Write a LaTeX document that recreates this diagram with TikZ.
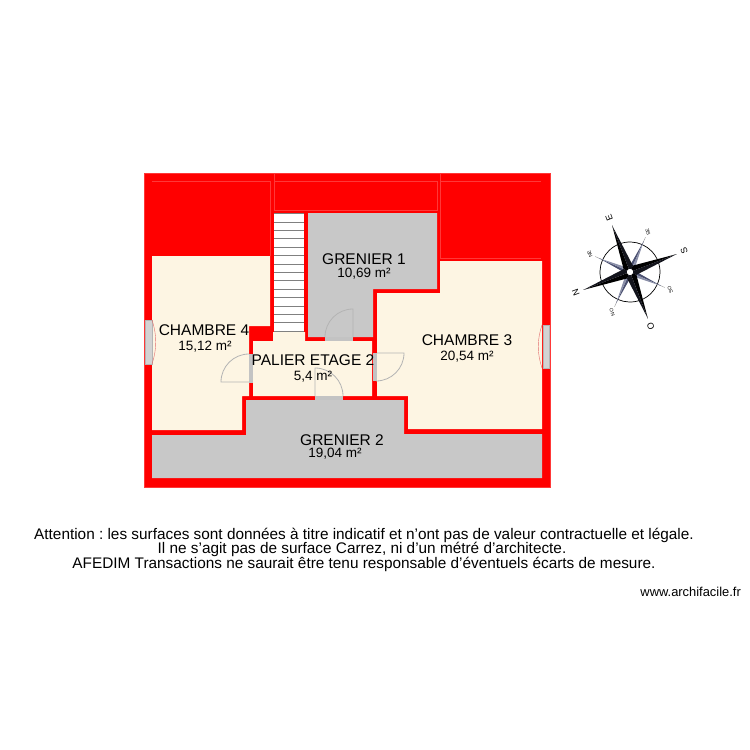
\documentclass[tikz,border=0pt]{standalone}
\usepackage{fontspec}
\setmainfont{Liberation Sans}
\frenchspacing
\definecolor{wallred}{HTML}{FF0000}
\definecolor{wallline}{HTML}{FF3838}
\definecolor{roomcream}{HTML}{FDF5E3}
\definecolor{atticgrey}{HTML}{C8C8C8}
\definecolor{doorgrey}{HTML}{B4B4B4}
\definecolor{starblue}{HTML}{4A5070}
\definecolor{starpale}{HTML}{8A8FA8}
\begin{document}
\begin{tikzpicture}[
        x=1pt, y=-1pt,
        room/.style={fill=roomcream},
        attic/.style={fill=atticgrey},
        seam/.style={wallline, line width=0.4pt},
        sill/.style={fill=doorgrey!80!white},
        glass/.style={fill=atticgrey!80!white, draw=doorgrey, line width=0.5pt},
        swing/.style={doorgrey, line width=0.8pt},
        roomname/.style={font=\fontsize{15.5}{15.5}\selectfont, inner sep=0pt},
        roomarea/.style={font=\fontsize{13.5}{13.5}\selectfont, inner sep=0pt},
        notice/.style={font=\fontsize{15.35}{15.35}\selectfont, inner sep=0pt},
        website/.style={font=\fontsize{12.9}{12.9}\selectfont, inner sep=0pt},
        point/.style={font=\fontsize{5}{5}\selectfont, inner sep=0pt, rotate=111},
        mainpoint/.style={font=\fontsize{9}{9}\selectfont, inner sep=0pt, rotate=111}
    ]
    \useasboundingbox (0,0) rectangle (750,750);

    % walls
    \fill[wallred] (144,173) rectangle (550,487);
    \draw[seam] (144,173) rectangle (550,487);
    \draw[seam] (152,181) -- (270,181) -- (270,256);
    \draw[seam] (274,173) -- (274,210) -- (437,210) -- (437,181) -- (274,181);
    \draw[seam] (440,173) -- (440,258) -- (541,258) (440,181) -- (541,181);

    % rooms
    \fill[room] (152,256) -- (270,256) -- (270,326) -- (249,326) -- (249,396) -- (242,396) -- (242,430) -- (152,430) -- cycle;
    \fill[room] (377,293) -- (440,293) -- (440,261) -- (542,261) -- (542,429) -- (408,429) -- (408,396) -- (377,396) -- cycle;
    \fill[room] (253,341) -- (273,341) -- (273,332) -- (305,332) -- (305,341) -- (372,341) -- (372,396) -- (253,396) -- cycle;
    \fill[attic] (308,213) -- (437,213) -- (437,289) -- (373,289) -- (373,337) -- (308,337) -- cycle;
    \fill[attic] (246,400) -- (404,400) -- (404,434) -- (542,434) -- (542,478) -- (152,478) -- (152,435) -- (246,435) -- cycle;

    % stairs
    \fill[white] (274,213) rectangle (304,332);
    \draw[gray, line width=0.7pt] (274,213) -- (304,213);
    \foreach \n in {0,...,13}{
        \draw[gray, line width=0.7pt] (274,222+8.4*\n) -- (304,222+8.4*\n);
    }

    % doors
    \fill[sill] (325,337) rectangle (353,341);
    \draw[swing] (353,337) -- (353,309) arc[start angle=270, end angle=180, radius=28];
    \fill[sill] (249,354) rectangle (253,383);
    \draw[swing] (249,382) -- (221,382) arc[start angle=180, end angle=270, radius=28];
    \fill[sill] (373,353) rectangle (377,381);
    \draw[swing] (377,353) -- (404,353) arc[start angle=0, end angle=90, radius=28];
    \fill[sill] (315,396) rectangle (343,400);
    \draw[swing] (315,396) -- (315,368) arc[start angle=270, end angle=360, radius=28];

    % windows
    \filldraw[glass] (145,320) rectangle (152,364);
    \draw[wallline!60!doorgrey] (152,320) .. controls (157,335) and (157,349) .. (152,364);
    \filldraw[glass] (543,325) rectangle (549,368);
    \draw[wallline!60!doorgrey] (542,325) .. controls (537,340) and (537,353) .. (542,368);

    % room labels
    \node[roomname] (chambre4) at (204,330) {CHAMBRE 4};
    \node[roomarea] (chambre4area) at (205,346.5) {15,12 m²};
    \node[roomname] (grenier1) at (364,259) {GRENIER 1};
    \node[roomarea] (grenier1area) at (364,273.5) {10,69 m²};
    \node[roomname] (palier) at (313,360) {PALIER ETAGE 2};
    \node[roomarea] (palierarea) at (313,377) {5,4 m²};
    \node[roomname] (chambre3) at (467,340) {CHAMBRE 3};
    \node[roomarea] (chambre3area) at (467,356.5) {20,54 m²};
    \node[roomname] (grenier2) at (342,440) {GRENIER 2};
    \node[roomarea] (grenier2area) at (335,453.5) {19,04 m²};

    % notice
    \node[notice] (notice1) at (364,535) {Attention : les surfaces sont données à titre indicatif et n’ont pas de valeur contractuelle et légale.};
    \node[notice] (notice2) at (362,549) {Il ne s’agit pas de surface Carrez, ni d’un métré d’architecte.};
    \node[notice] (notice3) at (364,564) {AFEDIM Transactions ne saurait être tenu responsable d’éventuels écarts de mesure.};
    \node[website, anchor=east] (site) at (741,592) {www.archifacile.fr};

    % compass
    \begin{scope}[shift={(630,272)}, y=1pt, rotate=111]
        \draw[black, line width=0.7pt] (0,0) circle[radius=30];
        \foreach \a in {45,135,225,315}{
            \draw[gray, line width=0.3pt] (\a:30) -- (\a:38);
            \fill[starblue] (0,0) -- (\a:34) -- (\a+22:7) -- cycle;
            \fill[starpale] (0,0) -- (\a:34) -- (\a-22:7) -- cycle;
        }
        \foreach \a in {0,90,180,270}{
            \fill[black] (0,0) -- (\a:50) -- (\a+45:7) -- cycle;
            \fill[black!75!starblue] (0,0) -- (\a:50) -- (\a-45:7) -- cycle;
        }
        \fill[white] (0,0) circle[radius=3.2];
        \node[mainpoint] (north) at (90:58) {N};
        \node[mainpoint] (east) at (0:58) {E};
        \node[mainpoint] (south) at (270:58) {S};
        \node[mainpoint] (west) at (180:58) {O};
        \node[point] (northeast) at (45:44) {NE};
        \node[point] (southeast) at (315:44) {SE};
        \node[point] (southwest) at (225:44) {SO};
        \node[point] (northwest) at (135:44) {NO};
    \end{scope}
\end{tikzpicture}
\end{document}
